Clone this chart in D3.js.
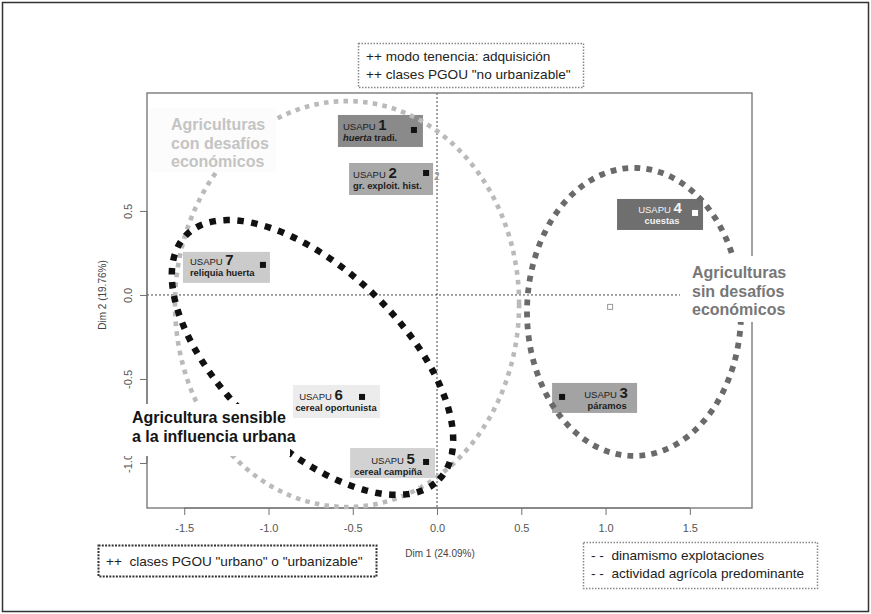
<!DOCTYPE html>
<html><head><meta charset="utf-8">
<script src="https://cdn.jsdelivr.net/npm/d3@7"></script>
<style>body{margin:0;background:#fff}svg{display:block;font-family:"Liberation Sans",Arial,sans-serif}</style>
</head><body><div id="chart"></div>
<script>
// ---------- data ----------
const usapuIds = ["1","2","3","4","5","6","7"];
const usapuNames = ["huerta tradi.","gr. exploit. hist.","páramos","cuestas","cereal campiña","cereal oportunista","reliquia huerta"];
const dim1 = [-0.137,-0.065,0.742,1.531,-0.065,-0.445,-1.033];
const dim2 = [0.982,0.726,-0.607,0.488,-0.994,-0.607,0.179];
const centroid = [1.027,-0.071];
const xTicks = [-1.5,-1,-0.5,0,0.5,1,1.5];
const yTicks = [-1,-0.5,0,0.5];
const ellipseNames = ["Agriculturas con desafíos económicos","Agricultura sensible a la influencia urbana","Agriculturas sin desafíos económicos"];
const ellipseCx = [-0.534,-0.739,1.169];
const ellipseCy = [-0.054,-0.372,-0.101];
const ellipseRx = [1.021,1.045,0.635];
const ellipseRy = [1.208,0.523,0.857];
const ellipseAngle = [0,-44,0];
const xTitle = "Dim 1 (24.09%)";
const yTitle = "Dim 2 (19.76%)";
const legendTop = ["++ modo tenencia: adquisición","++ clases PGOU \"no urbanizable\""];
const legendBL = ["++  clases PGOU \"urbano\" o \"urbanizable\""];
const legendBR = ["- -  dinamismo explotaciones","- -  actividad agrícola predominante"];

// ---------- layout / style ----------
const ellipseStyle = [
  {color:"#bababa", w:4.6, dash:"4.6,5.2"},
  {color:"#111111", w:6.5, dash:"6.5,7.5"},
  {color:"#6a6a6a", w:5.8, dash:"5.8,6.2"}
];
const labelLayout = [
  {bx0:-76,bx1:9,by0:-15,by1:17,l1x:-71,l2x:-71,l1y:0,anchor:"start",fill:"#8a8a8a",color:"#1c1c1c"},
  {bx0:-77,bx1:7,by0:-10,by1:22,l1x:-73,l2x:-73,l1y:5,anchor:"start",fill:"#a9a9a9",color:"#1c1c1c"},
  {bx0:-10,bx1:75,by0:-14,by1:16,l1x:44,l2x:45,l1y:1,anchor:"middle",fill:"#a3a3a3",color:"#1c1c1c"},
  {bx0:-78,bx1:8,by0:-14,by1:17,l1x:-35,l2x:-33,l1y:0,anchor:"middle",fill:"#6f6f6f",color:"#f4f4f4"},
  {bx0:-76,bx1:9,by0:-14,by1:16,l1x:-33,l2x:-38,l1y:2,anchor:"middle",fill:"#d2d2d2",color:"#1c1c1c"},
  {bx0:-69,bx1:18,by0:-12,by1:21,l1x:-41,l2x:-26,l1y:3,anchor:"middle",fill:"#ececec",color:"#1c1c1c"},
  {bx0:-80,bx1:7,by0:-13,by1:18,l1x:-73,l2x:-73,l1y:0,anchor:"start",fill:"#cbcbcb",color:"#1c1c1c"}
];

const svg = d3.select("#chart").append("svg").attr("width",871).attr("height",614);
const x = d3.scaleLinear().domain([-1.721,1.869]).range([147,752]);
const y = d3.scaleLinear().domain([-1.268,1.202]).range([508,93]);
const X0 = x.range()[0], X1 = x.range()[1], Y0 = y.range()[1], Y1 = y.range()[0];

// outer frame
svg.append("rect").attr("x",2.5).attr("y",2.5).attr("width",866).attr("height",609)
  .attr("fill","none").attr("stroke","#333").attr("stroke-width",1.5);

// zero lines
svg.append("line").attr("x1",x(0)).attr("x2",x(0)).attr("y1",Y0).attr("y2",Y1)
  .attr("stroke","#444").attr("stroke-width",1).attr("stroke-dasharray","2,2");
svg.append("line").attr("x1",X0).attr("x2",X1).attr("y1",y(0)).attr("y2",y(0))
  .attr("stroke","#444").attr("stroke-width",1).attr("stroke-dasharray","2,2");

// plot frame
svg.append("rect").attr("x",X0).attr("y",Y0).attr("width",X1-X0).attr("height",Y1-Y0)
  .attr("fill","none").attr("stroke","#707070").attr("stroke-width",1.3);

const fmt = d => d3.format(".1f")(d).replace("−","-");
const gx = svg.append("g").attr("transform",`translate(0,${Y1})`)
  .call(d3.axisBottom(x).tickValues(xTicks).tickFormat(fmt).tickSize(7).tickPadding(9));
gx.select(".domain").attr("d",`M${x(-1.5)},0H${x(1.5)}`).attr("stroke","#707070");
gx.selectAll(".tick line").attr("stroke","#707070");
gx.selectAll("text").attr("fill","#555").attr("font-size",11).attr("font-family","'Liberation Sans',Arial,sans-serif");

const gy = svg.append("g").attr("transform",`translate(${X0},0)`)
  .call(d3.axisLeft(y).tickValues(yTicks).tickFormat(fmt).tickSize(7));
gy.select(".domain").attr("d",`M0,${y(-1)}V${y(0.5)}`).attr("stroke","#707070");
gy.selectAll(".tick line").attr("stroke","#707070");
gy.selectAll("text").attr("x",null).attr("dy",null).attr("text-anchor","middle")
  .attr("transform","translate(-15,0) rotate(-90)")
  .attr("fill","#555").attr("font-size",11).attr("font-family","'Liberation Sans',Arial,sans-serif");

// USAPU label boxes
const lab = svg.append("g");
usapuIds.forEach((id,i)=>{
  const px = x(dim1[i]), py = y(dim2[i]), L = labelLayout[i];
  lab.append("rect").attr("x",px+L.bx0).attr("y",py+L.by0)
    .attr("width",L.bx1-L.bx0).attr("height",L.by1-L.by0).attr("fill",L.fill);
  const t1 = lab.append("text").attr("x",px+L.l1x).attr("y",py+L.l1y)
    .attr("text-anchor",L.anchor).attr("fill",L.color);
  t1.append("tspan").attr("font-size",9.5).text("USAPU ");
  t1.append("tspan").attr("font-size",15).attr("font-weight","bold").text(id);
  const t2 = lab.append("text").attr("x",px+L.l2x).attr("y",py+L.l1y+11)
    .attr("text-anchor",L.anchor).attr("fill",L.color).attr("font-size",9.4).attr("font-weight","bold");
  if(i===0){
    const parts = usapuNames[i].split(" ");
    t2.append("tspan").attr("font-style","italic").text(parts[0]);
    t2.append("tspan").text(" "+parts.slice(1).join(" "));
  } else t2.text(usapuNames[i]);
});
// faint hidden label of point 2
svg.append("text").attr("x",x(dim1[1])+8).attr("y",y(dim2[1])+7).attr("font-size",10).attr("fill","#888").text(usapuIds[1]);

// ellipses
const line = d3.line().x(d=>x(d[0])).y(d=>y(d[1]));
ellipseCx.forEach((cx,i)=>{
  const a = ellipseAngle[i]*Math.PI/180;
  const pts = d3.range(0,361,1.5).map(t=>{
    const r=t*Math.PI/180, ex=ellipseRx[i]*Math.cos(r), ey=ellipseRy[i]*Math.sin(r);
    return [cx+ex*Math.cos(a)-ey*Math.sin(a), ellipseCy[i]+ex*Math.sin(a)+ey*Math.cos(a)];
  });
  const s = ellipseStyle[i];
  svg.append("path").attr("d",line(pts)).attr("fill","none").attr("stroke",s.color)
    .attr("stroke-width",s.w).attr("stroke-dasharray",s.dash).attr("stroke-linecap","butt");
});

// group labels with white backgrounds
function groupLabel(lines, bx, by, bw, bh, tx, ty, color, bg){
  svg.append("rect").attr("x",bx).attr("y",by).attr("width",bw).attr("height",bh).attr("fill",bg);
  lines.forEach((l,k)=>svg.append("text").attr("x",tx).attr("y",ty+k*18.5)
    .attr("font-size",16).attr("font-weight","bold").attr("fill",color).text(l));
}
groupLabel(["Agriculturas","con desafíos","económicos"],149,108,127,64,171,130,"#c4c4c4","#fcfcfc");
groupLabel(["Agricultura sensible","a la influencia urbana"],118,404,172,52,132,423,"#151515","#ffffff");
groupLabel(["Agriculturas","sin desafíos","económicos"],680,256,138,66,692,278,"#777777","#ffffff");

// points
svg.append("rect").attr("x",x(centroid[0])-2.5).attr("y",y(centroid[1])-2.5).attr("width",5).attr("height",5)
  .attr("fill","none").attr("stroke","#999").attr("stroke-width",1);
usapuIds.forEach((id,i)=>{
  svg.append("rect").attr("x",x(dim1[i])-3).attr("y",y(dim2[i])-3).attr("width",6).attr("height",6)
    .attr("fill", i===3 ? "#ffffff" : "#111");
});

// axis titles
svg.append("text").attr("x",440).attr("y",557).attr("text-anchor","middle").attr("font-size",10).attr("fill","#444").text(xTitle);
svg.append("text").attr("transform","translate(106,295) rotate(-90)").attr("text-anchor","middle").attr("font-size",10).attr("fill","#444").text(yTitle);

// legend boxes
function legend(lines, bx, by, bw, bh, tx, ty, stroke, sw, dash){
  svg.append("rect").attr("x",bx).attr("y",by).attr("width",bw).attr("height",bh)
    .attr("fill","#fff").attr("stroke",stroke).attr("stroke-width",sw).attr("stroke-dasharray",dash);
  lines.forEach((l,k)=>svg.append("text").attr("x",tx).attr("y",ty+k*18).attr("font-size",13.6).attr("fill","#222")
    .style("white-space","pre").text(l));
}
legend(legendTop,358.5,43.5,225,44,366,61,"#888",1.5,"1.5,1.5");
legend(legendBL,98.5,545.5,278,31,106,566,"#333",2,"2,1.3");
legend(legendBR,583.5,542.5,234,46,591,560,"#888",1.5,"1.5,1.5");
</script>
</body></html>
